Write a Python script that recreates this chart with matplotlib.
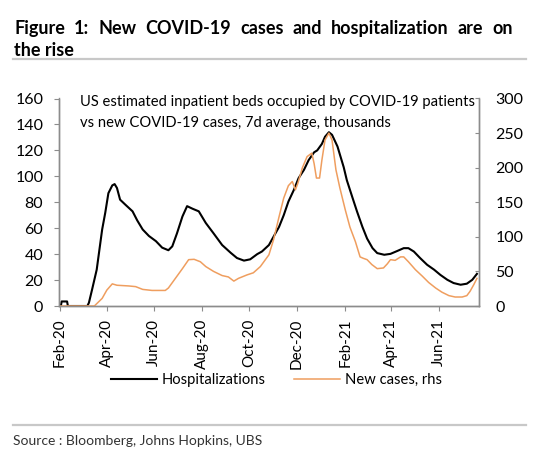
import matplotlib
matplotlib.use("Agg")
import matplotlib.pyplot as plt
import matplotlib.dates as mdates
from matplotlib.lines import Line2D
import pandas as pd

plt.rcParams['font.family'] = ['Lato', 'DejaVu Sans']

# US hospitalizations (thousands, left axis)
hosp_dates = ["2020-02-01", "2020-02-02", "2020-02-03", "2020-02-10", "2020-02-11", "2020-03-07",
              "2020-03-09", "2020-03-13", "2020-03-19", "2020-03-26", "2020-03-30", "2020-04-03",
              "2020-04-08", "2020-04-11", "2020-04-14", "2020-04-18", "2020-04-25", "2020-05-04",
              "2020-05-10", "2020-05-17", "2020-05-25", "2020-06-03", "2020-06-11", "2020-06-19",
              "2020-06-24", "2020-06-30", "2020-07-07", "2020-07-13", "2020-07-20", "2020-07-28",
              "2020-08-06", "2020-08-16", "2020-08-27", "2020-09-07", "2020-09-15", "2020-09-24",
              "2020-10-02", "2020-10-11", "2020-10-17", "2020-10-26", "2020-11-01", "2020-11-08",
              "2020-11-14", "2020-11-20", "2020-11-27", "2020-12-03", "2020-12-10", "2020-12-16",
              "2020-12-23", "2020-12-27", "2021-01-02", "2021-01-06", "2021-01-11", "2021-01-15",
              "2021-01-22", "2021-01-26", "2021-01-30", "2021-02-03", "2021-02-10", "2021-02-16",
              "2021-02-23", "2021-03-01", "2021-03-08", "2021-03-14", "2021-03-23", "2021-03-31",
              "2021-04-09", "2021-04-17", "2021-04-23", "2021-04-30", "2021-05-08", "2021-05-17",
              "2021-05-26", "2021-06-03", "2021-06-12", "2021-06-20", "2021-06-29", "2021-07-07",
              "2021-07-14", "2021-07-20"]
hosp_vals = [0, 0, 3.5, 3.5, 0, 0, 2.5, 12.5, 28, 59, 72, 87, 93, 94, 91, 82, 78, 73, 66, 59,
             54, 50, 45, 43, 46, 56, 69, 77, 75, 73, 64, 56, 47, 41, 37, 35, 36, 40, 42, 47,
             53.5, 61, 70, 80.5, 89.5, 98.5, 105, 112.5, 118.5, 120, 125, 130.5, 134, 132, 123,
             115, 107, 97, 84, 73, 61, 52, 44.6, 40.8, 39.5, 40.2, 42.5, 44.6, 44.6, 42,
             37, 31.8, 28, 24, 20.2, 17.7, 16.4, 17.2, 20.2, 24.8]

# new cases, 7d average (thousands, right axis)
case_dates = ["2020-02-01", "2020-03-16", "2020-03-26", "2020-04-01", "2020-04-08", "2020-04-14",
              "2020-04-29", "2020-05-08", "2020-05-17", "2020-05-29", "2020-06-15", "2020-06-19",
              "2020-06-28", "2020-07-07", "2020-07-15", "2020-07-22", "2020-07-30", "2020-08-06",
              "2020-08-16", "2020-08-27", "2020-09-04", "2020-09-11", "2020-09-17", "2020-09-28",
              "2020-10-06", "2020-10-15", "2020-10-26", "2020-11-01", "2020-11-08", "2020-11-14",
              "2020-11-20", "2020-11-25", "2020-11-29", "2020-12-02", "2020-12-08", "2020-12-14",
              "2020-12-20", "2020-12-23", "2020-12-26", "2020-12-30", "2021-01-02", "2021-01-06",
              "2021-01-11", "2021-01-15", "2021-01-20", "2021-01-25", "2021-02-01", "2021-02-07",
              "2021-02-14", "2021-02-20", "2021-02-24", "2021-03-01", "2021-03-07", "2021-03-14",
              "2021-03-22", "2021-03-27", "2021-03-31", "2021-04-06", "2021-04-13", "2021-04-17",
              "2021-04-23", "2021-05-02", "2021-05-11", "2021-05-19", "2021-05-28", "2021-06-05",
              "2021-06-14", "2021-06-22", "2021-07-01", "2021-07-07", "2021-07-11", "2021-07-16",
              "2021-07-20"]
case_vals = [0, 0, 11, 23, 32, 30, 29, 28, 24, 22.5, 22.5, 26, 40, 54, 67, 67.5, 64, 57, 50, 44,
             42, 36, 40, 45, 48, 57, 74, 96, 129, 156, 174, 180, 168, 177, 200, 216, 221, 206,
             185, 185, 211, 240, 250, 240, 197, 171, 139, 114, 93, 71, 69, 67, 60, 54, 55, 61,
             67, 66, 71, 71, 64, 52.5, 43, 34, 26, 20, 15, 13, 13, 15, 21, 31, 40]

left_ticks = [0, 20, 40, 60, 80, 100, 120, 140, 160]
right_ticks = [0, 50, 100, 150, 200, 250, 300]

title_line1 = "Figure 1: New COVID-19 cases and hospitalization are on"
title_line2 = "the rise"
note_lines = ["US estimated inpatient beds occupied by COVID-19 patients",
              "vs new COVID-19 cases, 7d average, thousands"]
source = "Source : Bloomberg, Johns Hopkins, UBS"

W, H = 533, 462
grey = '#8c8c8c'
orange = '#EF9E5F'


def fx(x):
    return x / W


def fy(y):
    return 1 - y / H


fig = plt.figure(figsize=(W / 100, H / 100), dpi=100)
ax = fig.add_axes([fx(59.3), fy(306), (479.3 - 59.3) / W, (306 - 98.5) / H])
ax2 = ax.twinx()

ax.plot(pd.to_datetime(hosp_dates), hosp_vals, color='black', lw=1.5, label='Hospitalizations')
ax2.plot(pd.to_datetime(case_dates), case_vals, color=orange, lw=1.1, label='New cases, rhs')

ax.set_xlim(pd.Timestamp("2020-01-31"), pd.Timestamp("2021-07-23"))
ax.set_ylim(0, 160)
ax2.set_ylim(0, 300)
ax.set_yticks(left_ticks)
ax2.set_yticks(right_ticks)

ax.xaxis.set_major_locator(mdates.MonthLocator(bymonth=[2, 4, 6, 8, 10, 12]))
ax.xaxis.set_major_formatter(mdates.DateFormatter('%b-%y'))

for a in (ax, ax2):
    a.spines['top'].set_visible(False)
    for s in ('left', 'right', 'bottom'):
        a.spines[s].set_color(grey)
        a.spines[s].set_linewidth(1.0)

ax.tick_params(axis='y', direction='out', length=3.6, color=grey, pad=8, labelsize=11.5)
ax.tick_params(axis='x', direction='out', length=3.6, color=grey, pad=5.5, labelsize=11,
               labelrotation=90)
ax2.tick_params(axis='y', direction='in', length=2.6, color=grey, pad=11.5, labelsize=11.5)

# text inside the chart
fig.text(fx(80), fy(105.7), note_lines[0], fontsize=10.6, va='baseline', ha='left')
fig.text(fx(80), fy(127.5), note_lines[1], fontsize=10.6, va='baseline', ha='left')

# justified title
renderer = fig.canvas.get_renderer()
words = title_line1.split()
texts = [fig.text(0, 0, w, fontsize=13, weight='bold', va='baseline', ha='left') for w in words]
widths = [t.get_window_extent(renderer).width for t in texts]
gap = (513 - 14 - sum(widths)) / (len(words) - 1)
xpos = 14
for t, w in zip(texts, widths):
    t.set_position((fx(xpos), fy(34)))
    xpos += w + gap
fig.text(fx(14), fy(55.5), title_line2, fontsize=13, weight='bold', va='baseline', ha='left')

fig.add_artist(Line2D([fx(13), fx(526)], [fy(58.5), fy(58.5)], color='#c8c8c8', lw=1.6))
fig.add_artist(Line2D([fx(13), fx(526)], [fy(424.5), fy(424.5)], color='#c8c8c8', lw=1.6))
fig.text(fx(13), fy(445), source, fontsize=10, color='#333333', va='baseline', ha='left')

h1, l1 = ax.get_legend_handles_labels()
h2, l2 = ax2.get_legend_handles_labels()
fig.legend(h1 + h2, l1 + l2, loc='center', bbox_to_anchor=(fx(276.5), fy(380)), ncol=2,
           frameon=False, fontsize=10.6, handlelength=3.1, handletextpad=0.35,
           columnspacing=1.9)

fig.savefig('out.png', dpi=100)
